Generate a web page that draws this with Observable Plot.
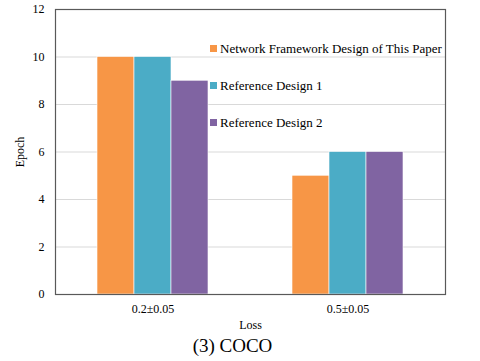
<!DOCTYPE html>
<html><head><meta charset="utf-8">
<script src="https://cdn.jsdelivr.net/npm/d3@7"></script>
<script src="https://cdn.jsdelivr.net/npm/@observablehq/plot@0.6"></script>
<style>
body{margin:0;background:#fff;font-family:"Liberation Serif","Times New Roman",Times,serif;}
#wrap{position:relative;width:480px;}
#legend{position:absolute;left:210px;top:30px;font-size:13px;color:#000;}
.item{display:flex;align-items:center;height:37px;}
.sw{width:7px;height:7px;margin-right:3px;}
#caption{font-size:19px;line-height:28px;text-align:center;width:465px;color:#000;}
svg{font-family:"Liberation Serif","Times New Roman",Times,serif;}
</style>
</head><body>
<div id="wrap"><div id="chart"></div><div id="legend"></div><div id="caption">(3) COCO</div></div>
<script>
const groups = ["0.2±0.05", "0.5±0.05"];
const series = ["Network Framework Design of This Paper", "Reference Design 1", "Reference Design 2"];
const colors = ["#F79646", "#4BACC6", "#8064A2"];
const valuesG1 = [10, 10, 9];
const valuesG2 = [5, 6, 6];
const yTicks = [0, 2, 4, 6, 8, 10, 12];

const data = [];
[valuesG1, valuesG2].forEach((vals, gi) => vals.forEach((v, si) => data.push({group: groups[gi], series: series[si], value: v})));

const plot = Plot.plot({
  width: 480,
  height: 332,
  marginLeft: 55,
  marginRight: 35,
  marginTop: 9,
  marginBottom: 38,
  style: {fontSize: "12px", fontFamily: "'Liberation Serif', 'Times New Roman', Times, serif", color: "#000", background: "#fff"},
  fx: {domain: groups, padding: 0, label: "Loss", labelAnchor: "center", labelOffset: 34, labelArrow: "none", tickSize: 0, tickPadding: 10},
  x: {domain: series, paddingInner: 0, paddingOuter: 1.135, axis: null},
  y: {domain: [0, 12], ticks: yTicks, tickFormat: d => d, label: "Epoch", labelAnchor: "center", labelArrow: "none", labelOffset: 40, tickSize: 0, tickPadding: 11},
  color: {domain: series, range: colors},
  facet: {data: data, x: "group"},
  marks: [
    Plot.ruleY(yTicks.slice(1, -1), {stroke: "#d9d9d9"}),
    Plot.barY(data, {x: "series", y: "value", fill: "series", stroke: "#fff", strokeWidth: 0.6}),
    Plot.frame({facet: "super", stroke: "#595959", strokeWidth: 1.2})
  ]
});
document.getElementById("chart").appendChild(plot);

const legend = document.getElementById("legend");
series.forEach((s, i) => {
  const it = document.createElement("div");
  it.className = "item";
  it.innerHTML = `<span class="sw" style="background:${colors[i]}"></span><span>${s}</span>`;
  legend.appendChild(it);
});
</script>
</body></html>
